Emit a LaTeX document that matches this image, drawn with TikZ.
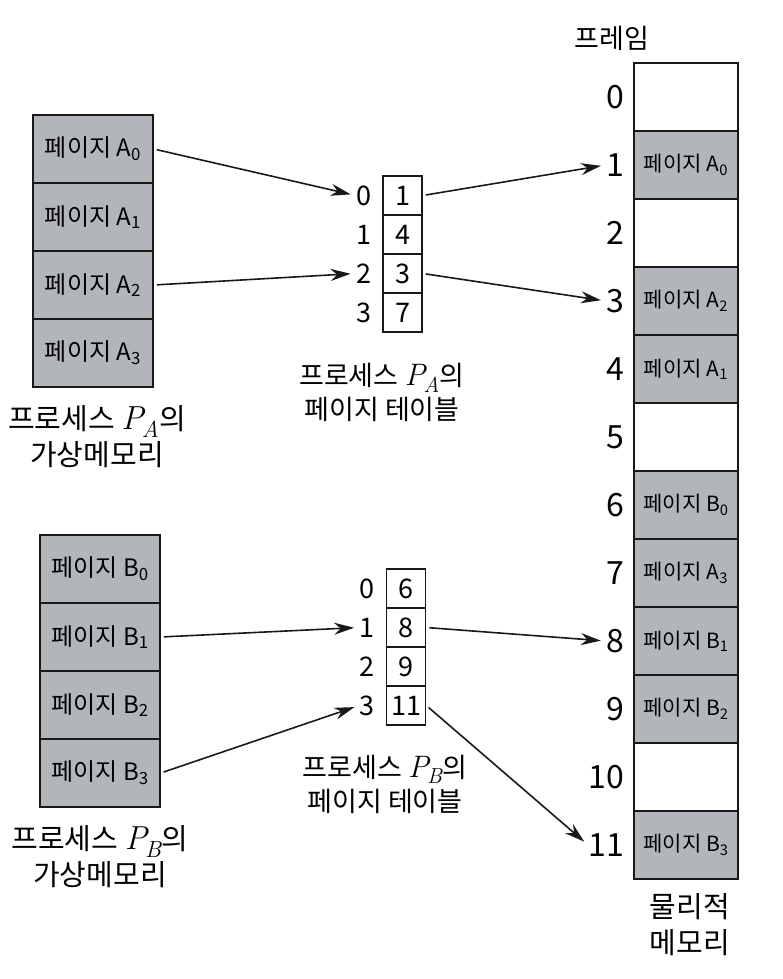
\documentclass[tikz,border=0pt]{standalone}
\usepackage{fontspec}
\setmainfont{Noto Sans CJK KR}
\newfontfamily\lmfont[Scale=1.15]{Latin Modern Roman}
\newcommand{\procP}[1]{{\lmfont\itshape P\kern-0.05em\textsubscript{#1}}}
\usetikzlibrary{positioning,arrows.meta}
\definecolor{cPage}{RGB}{178,182,187}
\definecolor{cInk}{RGB}{25,25,25}

\begin{document}
\begin{tikzpicture}[x=1pt,y=-1pt,line width=1.6pt,draw=cInk,
  vpage/.style={draw,fill=cPage,minimum width=120pt,minimum height=68pt,inner sep=0pt,font=\fontsize{24}{27}\selectfont},
  frm/.style={draw,minimum width=104pt,minimum height=68pt,inner sep=0pt,font=\fontsize{21}{24}\selectfont},
  cell/.style={draw,minimum width=39pt,minimum height=39pt,inner sep=0pt,font=\fontsize{27}{30}\selectfont},
  idx/.style={inner sep=0pt,font=\fontsize{27}{30}\selectfont},
  captxt/.style={align=center,font=\fontsize{29}{36}\selectfont},
  map/.style={-{Stealth[length=20pt,width=12pt]},line width=1.6pt,shorten <=3pt,shorten >=5pt}]
\useasboundingbox (0,0) rectangle (783,979);
% virtual memory of P_A
\foreach \i in {0,...,3}
  \node[vpage] (va\i) at (93,{149+68*\i}) {페이지 A\textsubscript{\i}};
\node[captxt] (capva) at (97,437) {프로세스 \procP{A}의\\가상메모리};
% page table of P_A
\foreach \i/\v in {0/1,1/4,2/3,3/7} {
  \node[cell] (ta\i) at (402.5,{195.5+39*\i}) {\v};
  \node[idx,left=10pt of ta\i] (ia\i) {\i};
}
\node[captxt,font=\fontsize{27}{34}\selectfont] (capta) at (382,392) {프로세스 \procP{A}의\\페이지 테이블};
% virtual memory of P_B
\foreach \i in {0,...,3}
  \node[vpage] (vb\i) at (100,{569+68*\i}) {페이지 B\textsubscript{\i}};
\node[captxt] (capvb) at (100,857) {프로세스 \procP{B}의\\가상메모리};
% page table of P_B
\foreach \i/\v in {0/6,1/8,2/9,3/11} {
  \node[cell] (tb\i) at (406,{588.5+39*\i}) {\v};
  \node[idx,left=10pt of tb\i] (ib\i) {\i};
}
\node[captxt,font=\fontsize{27}{34}\selectfont] (captb) at (385,784) {프로세스 \procP{B}의\\페이지 테이블};
% physical memory
\node[font=\fontsize{27}{30}\selectfont] (hdr) at (612,38) {프레임};
\foreach \i in {0,...,11} {
  \node[frm] (f\i) at (686,{97+68*\i}) {};
  \node[idx,font=\fontsize{32}{34}\selectfont,left=8pt of f\i] (fl\i) {\i};
}
\foreach \i/\p in {1/A\textsubscript{0},3/A\textsubscript{2},4/A\textsubscript{1},6/B\textsubscript{0},7/A\textsubscript{3},8/B\textsubscript{1},9/B\textsubscript{2},11/B\textsubscript{3}}
  \node[frm,fill=cPage] (pf\i) at (f\i) {페이지 \p};
\node[captxt,font=\fontsize{29}{36}\selectfont] (capfm) at (690,925) {물리적\\메모리};
% mappings
\draw[map] (va0.east) -- (ia0.west);
\draw[map] (va2.east) -- (ia2.west);
\draw[map] (ta0.east) -- (fl1.west);
\draw[map] (ta2.east) -- (fl3.west);
\draw[map] (vb1.east) -- (ib1.west);
\draw[map] (vb3.east) -- (ib3.west);
\draw[map] (tb1.east) -- (fl8.west);
\draw[map] (tb3.east) -- (fl11.west);
\end{tikzpicture}
\end{document}
